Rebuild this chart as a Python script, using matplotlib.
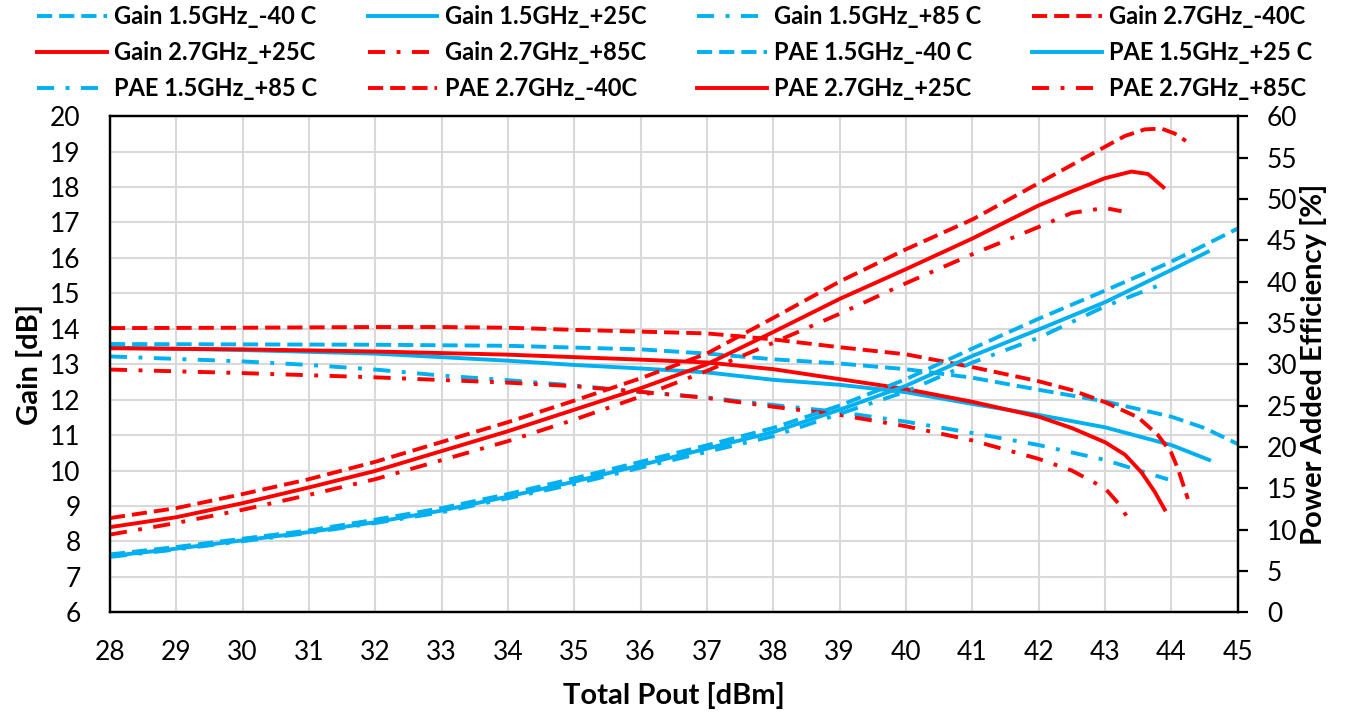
import matplotlib
matplotlib.use("Agg")
import matplotlib.pyplot as plt

plt.rcParams['font.family'] = ['Lato', 'DejaVu Sans']

BLUE = '#00B0F0'
RED = '#FF0000'

# ---------------- data ----------------
# Gain curves (left axis, dB)
g15_m40_x = [28, 30, 32, 34, 35, 36, 37, 38, 39, 40, 41, 42, 43, 44, 44.5, 45]
g15_m40_y = [13.57, 13.56, 13.55, 13.52, 13.47, 13.42, 13.3, 13.14, 13.02, 12.86, 12.62, 12.28, 11.95, 11.52, 11.2, 10.75]

g15_p25_x = [28, 30, 32, 34, 35, 36, 37, 38, 39, 40, 41, 42, 43, 44, 44.57]
g15_p25_y = [13.47, 13.4, 13.3, 13.1, 12.98, 12.88, 12.77, 12.56, 12.42, 12.21, 11.88, 11.57, 11.22, 10.72, 10.3]

g15_p85_x = [28, 29, 30, 31, 32, 33, 34, 35, 36, 37, 38, 39, 40, 41, 42, 43, 43.95]
g15_p85_y = [13.22, 13.15, 13.08, 12.98, 12.85, 12.68, 12.55, 12.4, 12.22, 12.06, 11.85, 11.65, 11.38, 11.06, 10.72, 10.3, 9.75]

g27_m40_x = [28, 30, 32, 33, 34, 35, 36, 37, 38, 39, 40, 41, 42, 42.5, 43, 43.5, 43.8, 44.0, 44.1, 44.25]
g27_m40_y = [14.02, 14.03, 14.05, 14.05, 14.03, 13.97, 13.92, 13.87, 13.7, 13.48, 13.28, 12.92, 12.52, 12.27, 11.93, 11.5, 11.0, 10.5, 10.05, 9.2]

g27_p25_x = [28, 30, 32, 34, 35, 36, 37, 38, 39, 40, 41, 42, 42.5, 43, 43.3, 43.55, 43.75, 43.9]
g27_p25_y = [13.45, 13.42, 13.36, 13.27, 13.2, 13.13, 13.05, 12.86, 12.58, 12.3, 11.94, 11.52, 11.2, 10.8, 10.45, 9.95, 9.4, 8.9]

g27_p85_x = [28, 30, 32, 34, 35, 36, 37, 38, 39, 40, 41, 42, 42.5, 43, 43.2, 43.4]
g27_p85_y = [12.85, 12.75, 12.63, 12.48, 12.38, 12.22, 12.05, 11.8, 11.57, 11.25, 10.85, 10.33, 10.0, 9.5, 9.08, 8.5]

# PAE curves (right axis, %)
p15_m40_x = [28, 29, 30, 31, 32, 33, 34, 35, 36, 37, 38, 39, 40, 41, 42, 43, 44, 45]
p15_m40_y = [7.0, 7.9, 8.9, 9.9, 11.2, 12.6, 14.3, 16.2, 18.2, 20.2, 22.3, 25.0, 28.2, 31.9, 35.5, 38.9, 42.4, 46.4]

p15_p25_x = [28, 29, 30, 31, 32, 33, 34, 35, 36, 37, 38, 39, 40, 41, 42, 43, 44, 44.55]
p15_p25_y = [6.8, 7.7, 8.7, 9.7, 10.9, 12.3, 14.0, 15.8, 17.8, 19.8, 21.8, 24.5, 27.4, 31.0, 34.2, 37.5, 41.4, 43.6]

p15_p85_x = [28, 29, 30, 31, 32, 33, 34, 35, 36, 37, 38, 39, 40, 41, 42, 43, 43.8]
p15_p85_y = [6.7, 7.6, 8.6, 9.6, 10.8, 12.1, 13.8, 15.5, 17.5, 19.4, 21.3, 24.0, 26.7, 30.2, 33.2, 37.0, 39.5]

p27_m40_x = [28, 29, 30, 31, 32, 33, 34, 35, 36, 37, 38, 39, 40, 41, 42, 43, 43.3, 43.6, 43.85, 44.05, 44.22]
p27_m40_y = [11.4, 12.6, 14.3, 16.1, 18.2, 20.6, 23.0, 25.6, 28.3, 31.3, 35.6, 40.0, 43.9, 47.5, 51.9, 56.3, 57.6, 58.4, 58.5, 57.9, 57.0]

p27_p25_x = [28, 29, 30, 31, 32, 33, 34, 35, 36, 37, 38, 39, 40, 41, 42, 42.5, 43, 43.4, 43.65, 43.88]
p27_p25_y = [10.3, 11.5, 13.2, 15.1, 17.1, 19.5, 21.9, 24.5, 27.1, 30.0, 33.9, 37.9, 41.5, 45.2, 49.2, 50.9, 52.5, 53.3, 53.0, 51.4]

p27_p85_x = [28, 29, 30, 31, 32, 33, 34, 35, 36, 37, 38, 39, 40, 41, 42, 42.5, 43, 43.25]
p27_p85_y = [9.4, 10.8, 12.4, 14.2, 16.1, 18.4, 20.7, 23.3, 26.1, 29.2, 32.6, 36.1, 39.8, 43.3, 46.6, 48.3, 48.9, 48.5]

labels = ['Gain 1.5GHz_-40 C', 'Gain 1.5GHz_+25C', 'Gain 1.5GHz_+85 C', 'Gain 2.7GHz_-40C',
          'Gain 2.7GHz_+25C', 'Gain 2.7GHz_+85C', 'PAE 1.5GHz_-40 C', 'PAE 1.5GHz_+25 C',
          'PAE 1.5GHz_+85 C', 'PAE 2.7GHz_-40C', 'PAE 2.7GHz_+25C', 'PAE 2.7GHz_+85C']

x_ticks = list(range(28, 46))
gain_ticks = list(range(6, 21))
pae_ticks = list(range(0, 61, 5))

# ---------------- styles ----------------
DASH = (0, (3.9, 1.8))
DASHDOT = (0, (4.4, 2.95, 1.0, 2.95))
LW = 2.8

fig = plt.figure(figsize=(13.46, 7.17), dpi=100)
ax = fig.add_axes([0.0817, 0.146, 0.9195 - 0.0817, 0.838 - 0.146])
ax2 = ax.twinx()

gain_series = [
    (g15_m40_x, g15_m40_y, BLUE, DASH),
    (g15_p25_x, g15_p25_y, BLUE, '-'),
    (g15_p85_x, g15_p85_y, BLUE, DASHDOT),
    (g27_m40_x, g27_m40_y, RED, DASH),
    (g27_p25_x, g27_p25_y, RED, '-'),
    (g27_p85_x, g27_p85_y, RED, DASHDOT),
]
pae_series = [
    (p15_m40_x, p15_m40_y, BLUE, DASH),
    (p15_p25_x, p15_p25_y, BLUE, '-'),
    (p15_p85_x, p15_p85_y, BLUE, DASHDOT),
    (p27_m40_x, p27_m40_y, RED, DASH),
    (p27_p25_x, p27_p25_y, RED, '-'),
    (p27_p85_x, p27_p85_y, RED, DASHDOT),
]

handles = []
for (xs, ys, c, ls), lab in zip(gain_series, labels[:6]):
    h, = ax.plot(xs, ys, color=c, linestyle=ls, linewidth=LW, label=lab)
    handles.append(h)
for (xs, ys, c, ls), lab in zip(pae_series, labels[6:]):
    h, = ax2.plot(xs, ys, color=c, linestyle=ls, linewidth=LW, label=lab)
    handles.append(h)

ax.set_xlim(28, 45)
ax.set_ylim(6, 20)
ax2.set_ylim(0, 60)
ax.set_xticks(x_ticks)
ax.set_yticks(gain_ticks)
ax2.set_yticks(pae_ticks)

ax.grid(True, color='#D9D9D9', linewidth=1.5)
ax.set_axisbelow(True)

for a in (ax, ax2):
    for s in a.spines.values():
        s.set_color('black')
        s.set_linewidth(1.6)

ax.tick_params(axis='x', length=0, pad=20, labelsize=19)
ax.tick_params(axis='y', length=0, pad=21, labelsize=19)
ax2.tick_params(axis='y', length=7, width=1.6, direction='out', pad=14, labelsize=19)

ax.set_xlabel('Total Pout [dBm]', fontsize=21, fontweight='bold', labelpad=12)
ax.set_ylabel('Gain [dB]', fontsize=21, fontweight='bold', labelpad=5)
ax2.set_ylabel('Power Added Efficiency [%]', fontsize=21, fontweight='bold', labelpad=2)

order = [0, 4, 8, 1, 5, 9, 2, 6, 10, 3, 7, 11]
fig.legend([handles[i] for i in order], [labels[i] for i in order],
           loc='upper left', bbox_to_anchor=(37 / 1346, 1 - 6 / 717, 1275 / 1346, 0.001),
           mode='expand', ncol=4,
           frameon=False, prop={'weight': 'bold', 'size': 17},
           handlelength=2.95, handletextpad=0.3, columnspacing=2.0,
           labelspacing=0.55, borderpad=0, borderaxespad=0)

fig.savefig('out.png', dpi=100)
